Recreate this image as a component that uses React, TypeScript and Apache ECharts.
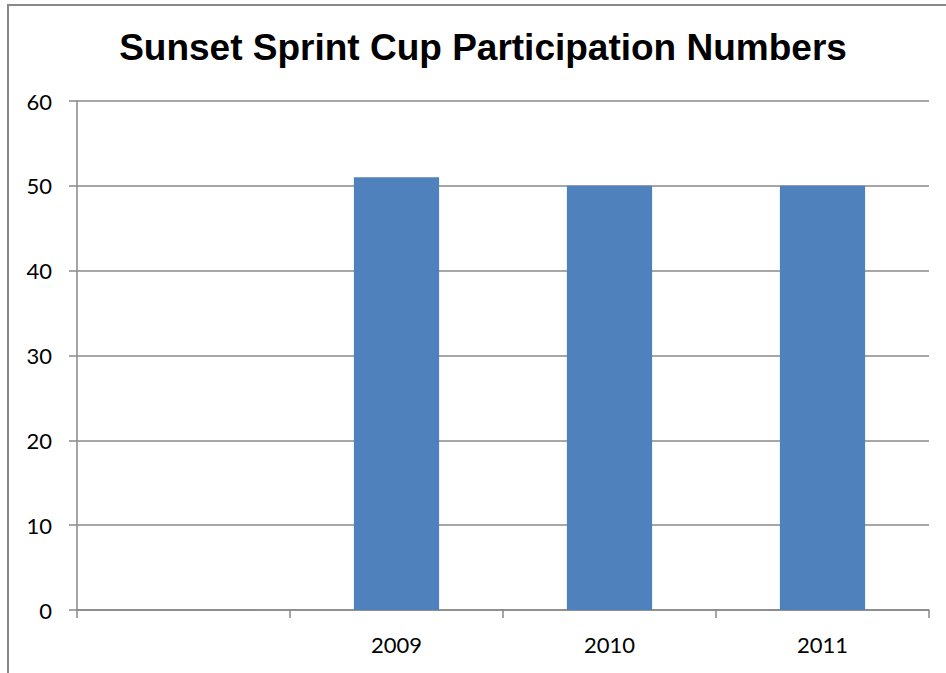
import React, { useEffect, useRef } from "react";
import * as echarts from "echarts";

const categories = ["", "2009", "2010", "2011"];
const participants: (number | null)[] = [null, 51, 50, 50];
const yTicks = { min: 0, max: 60, interval: 10 };
const titleText = "Sunset Sprint Cup Participation Numbers";

export default function App() {
  const ref = useRef<HTMLDivElement>(null);
  useEffect(() => {
    if (!ref.current) return;
    const chart = echarts.init(ref.current, undefined, { renderer: "svg" });
    chart.setOption({
      animation: false,
      backgroundColor: "#ffffff",
      graphic: [
        {
          type: "rect",
          shape: { x: 8, y: 5, width: 960, height: 700 },
          style: { fill: "none", stroke: "#888888", lineWidth: 2 },
          silent: true,
          z: -1,
        },
        {
          type: "text",
          x: 483,
          y: 47,
          style: {
            text: titleText,
            align: "center",
            verticalAlign: "middle",
            fontFamily: "Liberation Sans, Arial, sans-serif",
            fontWeight: "bold",
            fontSize: 37,
            fill: "#000000",
          },
        },
      ],
      grid: { left: 77, top: 101, right: 17, bottom: 63 },
      xAxis: {
        type: "category",
        data: categories,
        axisLine: { show: true, lineStyle: { color: "#888888", width: 1.5 } },
        axisTick: { show: true, alignWithLabel: false, length: 8, lineStyle: { color: "#888888", width: 1.5 } },
        axisLabel: {
          margin: 23,
          fontFamily: "Lato, Carlito, sans-serif",
          fontSize: 22,
          color: "#000000",
        },
      },
      yAxis: {
        type: "value",
        min: yTicks.min,
        max: yTicks.max,
        interval: yTicks.interval,
        axisLine: { show: true, lineStyle: { color: "#888888", width: 1.5 } },
        axisTick: { show: true, length: 8, lineStyle: { color: "#888888", width: 1.5 } },
        splitLine: { show: true, lineStyle: { color: "#888888", width: 1.5 } },
        axisLabel: {
          margin: 25,
          fontFamily: "Lato, Carlito, sans-serif",
          fontSize: 22,
          color: "#000000",
        },
      },
      series: [
        {
          type: "bar",
          data: participants,
          barWidth: "40%",
          itemStyle: { color: "#4F81BD" },
        },
      ],
    });
    return () => chart.dispose();
  }, []);
  return (
    <div
      ref={ref}
      style={{ position: "fixed", left: 0, top: 0, width: 946, height: 673 }}
    />
  );
}
